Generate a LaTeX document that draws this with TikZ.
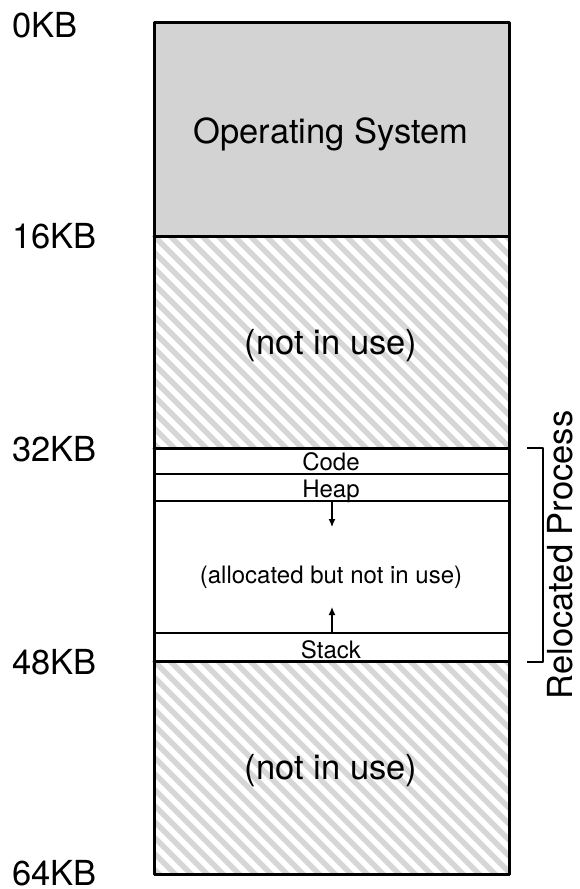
\documentclass[tikz,border=0pt]{standalone}
\usepackage{fontspec}
\setmainfont{TeX Gyre Heros}
\usetikzlibrary{arrows.meta}
\definecolor{osgray}{HTML}{D3D3D3}
\definecolor{hatchgray}{HTML}{D6D6D6}
\tikzset{
  bigtext/.style={font=\fontsize{34.5}{40}\selectfont, inner sep=0pt},
  smalltext/.style={font=\fontsize{24}{28}\selectfont, inner sep=0pt},
  hatchline/.style={draw=hatchgray, line width=5.6pt, line cap=butt},
  major/.style={line width=3pt},
  minor/.style={line width=1.8pt},
  growarrow/.style={line width=1.2pt, -{Latex[length=8pt,width=7pt]}}
}
\begin{document}
\begin{tikzpicture}[x=1pt, y=-1pt, line join=round, line cap=round]
		\useasboundingbox (0,0) rectangle (579,889);
		% region boundaries
		\coordinate (K0L) at (154,22);    \coordinate (K0R) at (509,22);
		\coordinate (K16L) at (154,236);  \coordinate (K16R) at (509,236);
		\coordinate (K32L) at (154,448);  \coordinate (K32R) at (509,448);
		\coordinate (CodeL) at (154,474); \coordinate (CodeR) at (509,474);
		\coordinate (HeapL) at (154,501); \coordinate (HeapR) at (509,501);
		\coordinate (StackL) at (154,633);\coordinate (StackR) at (509,633);
		\coordinate (K48L) at (154,661);  \coordinate (K48R) at (509,661);
		\coordinate (K64L) at (154,874);  \coordinate (K64R) at (509,874);
		% operating system
		\fill[osgray] (K0L) rectangle (K16R);
		% free regions
		\foreach \top/\bot in {K16L/K32R, K48L/K64R} {
			\begin{scope}
				\clip (\top) rectangle (\bot);
				\foreach \i in {-15,...,24}
				\draw[hatchline] ([xshift=\i*16pt]\top) -- ++(240,240);
			\end{scope}
		}
		\draw[major] (K16L)--(K16R) (K32L)--(K32R) (K48L)--(K48R);
		\draw[minor] (CodeL)--(CodeR) (HeapL)--(HeapR) (StackL)--(StackR);
		\draw[major] (K0L) rectangle (K64R);
		% texts
		\node[bigtext, anchor=base] (os) at (331,143) {Operating System};
		\node[bigtext, anchor=base] (free1) at (331,354) {(not in use)};
		\node[bigtext, anchor=base] (free2) at (331,779) {(not in use)};
		\node[smalltext, anchor=base] (code) at (331,470) {Code};
		\node[smalltext, anchor=base] (heap) at (331,497) {Heap};
		\node[smalltext, anchor=base] (gap) at (331,583) {(allocated but not in use)};
		\node[smalltext, anchor=base] (stack) at (331,658) {Stack};
		\foreach \n/\y in {0/37, 16/248, 32/461, 48/674, 64/885}
		\node[bigtext, anchor=base west] (kb\n) at (12,\y) {\n KB};
		% growth arrows
		\coordinate (HeapTip) at (332,527);
		\coordinate (StackTip) at (332,607);
		\draw[growarrow] (HeapL -| HeapTip) -- (HeapTip);
		\draw[growarrow] (StackL -| StackTip) -- (StackTip);
		% bracket
		\coordinate (BrTop) at (527,448);
		\coordinate (BrBot) at (527,662);
		\draw[line width=1.2pt, line cap=butt] (BrTop) -- ++(16,0) |- (BrBot);
		\node[bigtext, anchor=base, rotate=90] (reloc) at (572,555) {Relocated Process};
	\end{tikzpicture}
\end{document}
